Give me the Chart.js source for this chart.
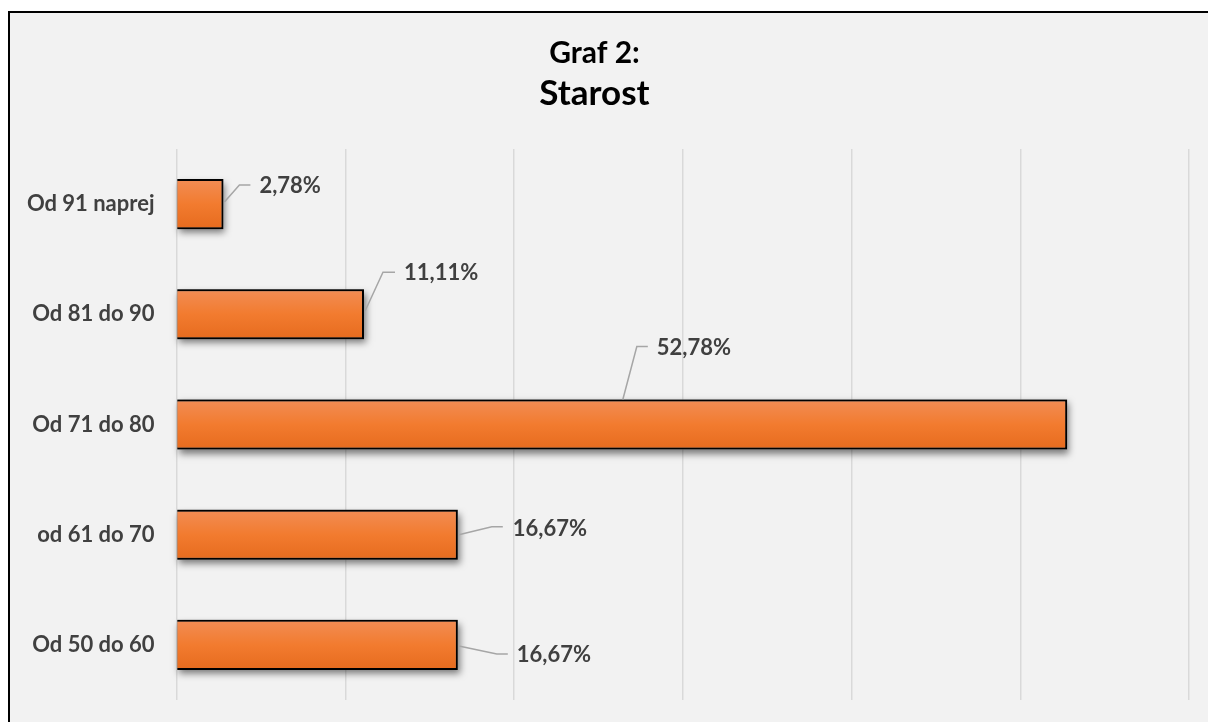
<!DOCTYPE html>
<html>
<head>
<meta charset="utf-8">
<title>Graf 2: Starost</title>
<script src="https://cdn.jsdelivr.net/npm/chart.js@4.4.1/dist/chart.umd.min.js"></script>
<style>
  html, body { margin: 0; padding: 0; background: #ffffff; overflow: hidden; }
  #frame {
    position: absolute; left: 8px; top: 11px;
    width: 1230px; height: 740px;
    border: 2px solid #000000; background: #f2f2f2;
  }
  #wrap { position: absolute; left: 0; top: 0; width: 1208px; height: 722px; }
</style>
</head>
<body>
<div id="frame"></div>
<div id="wrap"><canvas id="chartStarost" width="1208" height="722"></canvas></div>
<script>
// ================================================
// Data
// ================================================

const categories = ['Od 91 naprej', 'Od 81 do 90', 'Od 71 do 80', 'od 61 do 70', 'Od 50 do 60'];
const shares = [2.78, 11.11, 52.78, 16.67, 16.67];
const shareLabels = ['2,78%', '11,11%', '52,78%', '16,67%', '16,67%'];
const axisMin = 0;
const axisMax = 60;
const axisStep = 10;

// Callout placement (pixel offsets from the anchor on the bar)
const calloutLayout = [
  { anchor: 'end', start: [1, -2], elbow: [16, -19], tail: [27, -19], text: [36, -18] },
  { anchor: 'end', start: [1, -3], elbow: [19, -42], tail: [31, -42], text: [40, -41] },
  { anchor: 'top', start: [1, 0], elbow: [15, -53], tail: [26, -53], text: [35, -52] },
  { anchor: 'end', start: [1, 0], elbow: [34, -8], tail: [45, -8], text: [55, -6] },
  { anchor: 'end', start: [1, 1], elbow: [39, 9], tail: [50, 9], text: [59, 10] }
];

const FONT = 'Lato, "Open Sans", sans-serif';
const BAR_PCT = 0.4545;

// ================================================
// Plugins
// ================================================

// soft shadow under the bars (drawn before the bars, they cover it)
const barShadow = {
  id: 'barShadow',
  beforeDatasetsDraw(chart) {
    const ctx = chart.ctx;
    const meta = chart.getDatasetMeta(0);
    ctx.save();
    ctx.shadowColor = 'rgba(0, 0, 0, 0.5)';
    ctx.shadowBlur = 7;
    ctx.shadowOffsetX = 2;
    ctx.shadowOffsetY = 4;
    ctx.fillStyle = '#808080';
    meta.data.forEach(bar => {
      const left = Math.min(bar.base, bar.x);
      ctx.fillRect(left, bar.y - bar.height / 2, Math.abs(bar.x - bar.base), bar.height);
    });
    ctx.restore();
  }
};

// data labels with leader lines
const callouts = {
  id: 'callouts',
  afterDatasetsDraw(chart) {
    const ctx = chart.ctx;
    const meta = chart.getDatasetMeta(0);
    const xScale = chart.scales.x;
    ctx.save();
    meta.data.forEach((bar, i) => {
      const lay = calloutLayout[i];
      let ax, ay;
      if (lay.anchor === 'top') {
        ax = xScale.getPixelForValue(shares[i] / 2);
        ay = bar.y - bar.height / 2;
      } else {
        ax = bar.x;
        ay = bar.y;
      }
      ctx.strokeStyle = '#a6a6a6';
      ctx.lineWidth = 1.5;
      ctx.beginPath();
      ctx.moveTo(ax + lay.start[0], ay + lay.start[1]);
      ctx.lineTo(ax + lay.elbow[0], ay + lay.elbow[1]);
      ctx.lineTo(ax + lay.tail[0], ay + lay.tail[1]);
      ctx.stroke();

      ctx.fillStyle = '#404040';
      ctx.font = 'bold 22px ' + FONT;
      ctx.textAlign = 'left';
      ctx.textBaseline = 'middle';
      ctx.fillText(shareLabels[i], ax + lay.text[0], ay + lay.text[1]);
    });
    ctx.restore();
  }
};

// ================================================
// Chart
// ================================================

function barGradient(context) {
  const chart = context.chart;
  if (!chart.chartArea) return '#f27b2f';
  const y = chart.scales.y.getPixelForValue(context.dataIndex);
  const half = (chart.chartArea.height / categories.length) * BAR_PCT / 2;
  const g = chart.ctx.createLinearGradient(0, y - half, 0, y + half);
  g.addColorStop(0, '#f28d55');
  g.addColorStop(0.5, '#f27b2f');
  g.addColorStop(1, '#e66b1e');
  return g;
}

new Chart(document.getElementById('chartStarost'), {
  type: 'bar',
  data: {
    labels: categories,
    datasets: [
      {
        data: shares,
        backgroundColor: barGradient,
        borderColor: '#000000',
        borderWidth: 2,
        borderSkipped: 'start',
        barPercentage: BAR_PCT,
        categoryPercentage: 1
      }
    ]
  },
  options: {
    indexAxis: 'y',
    responsive: false,
    animation: false,
    layout: {
      padding: { top: 10, right: 19, bottom: 22, left: 0 }
    },
    plugins: {
      legend: { display: false },
      tooltip: { enabled: false },
      title: {
        display: true,
        text: 'Graf 2:',
        color: '#000000',
        font: { family: FONT, size: 30, weight: 'bold' },
        padding: { top: 25, bottom: 0 }
      },
      subtitle: {
        display: true,
        text: 'Starost',
        color: '#000000',
        font: { family: FONT, size: 35, weight: 'bold' },
        padding: { top: 2, bottom: 34 }
      }
    },
    scales: {
      x: {
        min: axisMin,
        max: axisMax,
        ticks: { display: false, stepSize: axisStep },
        border: { display: false },
        grid: { color: '#d9d9d9', lineWidth: 1.5, drawTicks: false }
      },
      y: {
        afterFit(scale) {
          scale.width = 176.5;
          scale.paddingTop = 0;
          scale.paddingBottom = 0;
        },
        ticks: {
          color: '#404040',
          padding: 22,
          font: { family: FONT, size: 22, weight: 'bold' }
        },
        border: { display: false },
        grid: { display: false, drawTicks: false }
      }
    }
  },
  plugins: [barShadow, callouts]
});
</script>
</body>
</html>
